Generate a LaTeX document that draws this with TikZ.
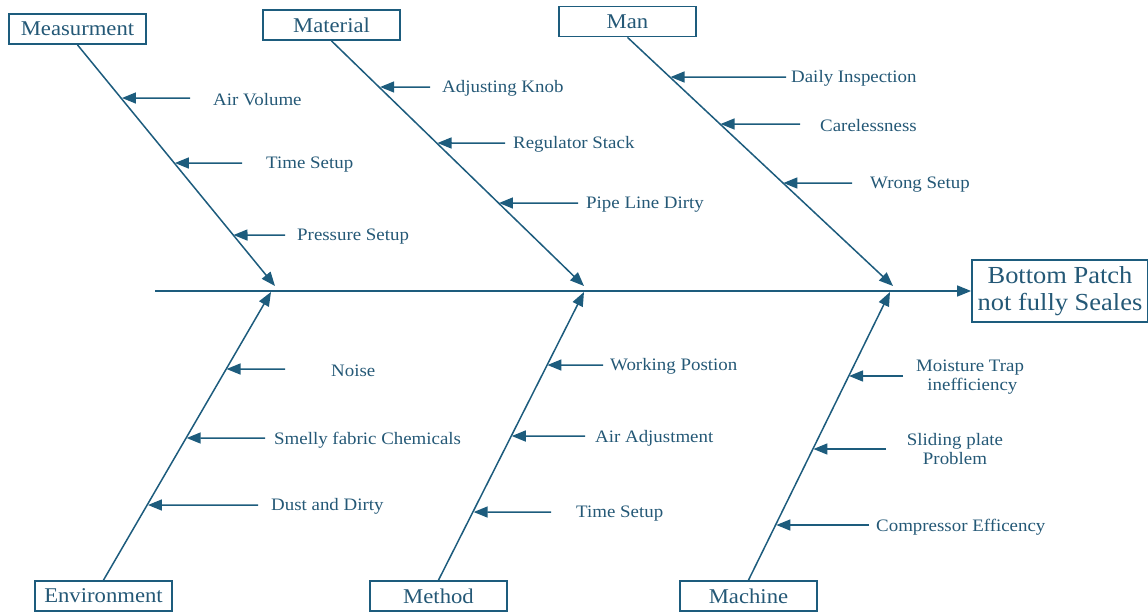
\documentclass[tikz,border=0pt]{standalone}
\usepackage{fontspec}
\setmainfont{Liberation Serif}[FakeStretch=1.08]
\usetikzlibrary{arrows.meta,calc}
\definecolor{bone}{RGB}{29,92,125}
\definecolor{ink}{RGB}{36,88,118}
\tikzset{
  catbox/.style={draw=bone,line width=1.8pt,minimum width=137pt,minimum height=30pt,inner sep=0pt,
    text=ink,font=\fontsize{21}{24}\selectfont},
  headbox/.style={draw=bone,line width=1.8pt,minimum width=176pt,minimum height=62pt,inner sep=0pt,
    align=center,text=ink,font=\fontsize{24.5}{26.5}\selectfont},
  boneline/.style={draw=bone,line width=1.5pt,-{Triangle[length=14pt,width=11pt]}},
  cause/.style={draw=bone,line width=1.5pt,-{Triangle[length=14pt,width=11pt]}},
  lbl/.style={text=ink,inner sep=0pt,yshift=-1.8pt,font=\fontsize{17.5}{19}\selectfont},
}
% one cause: #1 name, #2/#3 bone ends, #4 arrow tail, #5 label anchor point, #6 text
\newcommand\causeline[6]{%
  \coordinate (#1) at #4;
  \coordinate (#1h) at ($(#1)+(-60,0)$);
  \draw[cause] (#1) -- (intersection of #2--#3 and #1--#1h);
  \node[lbl,anchor=west] (#1t) at #5 {#6};
}
\begin{document}
\begin{tikzpicture}[x=1pt,y=-1pt]
\useasboundingbox (0,0) rectangle (1148,613);

% effect
\node[headbox] (head) at (1060,291) {\raisebox{-2pt}{Bottom Patch}\\\raisebox{-2pt}{not fully Seales}};
\coordinate (spineL) at (155,291);
\draw[boneline] (spineL) -- (head.west);

% categories
\node[catbox] (meas) at (77.5,29) {Measurment};
\node[catbox] (mat) at (331.5,25) {Material};
\node[catbox] (man) at (627.5,21.5) {Man};
\node[catbox] (env) at (103.5,596) {Environment};
\node[catbox] (meth) at (438.5,596) {Method};
\node[catbox] (mach) at (748.5,596) {Machine};

% bone end points
\coordinate (msA) at (78,44);   \coordinate (msB) at (275,286);
\coordinate (maA) at (332,40);  \coordinate (maB) at (584,286);
\coordinate (mnA) at (628,37);  \coordinate (mnB) at (893,286);
\coordinate (evA) at (104,581); \coordinate (evB) at (271,292);
\coordinate (mtA) at (439,581); \coordinate (mtB) at (584,292);
\coordinate (mcA) at (749,581); \coordinate (mcB) at (890,292);

\draw[boneline] (meas.south) -- (msB);
\draw[boneline] (mat.south) -- (maB);
\draw[boneline] (man.south) -- (mnB);
\draw[boneline] (env.north) -- (evB);
\draw[boneline] (meth.north) -- (mtB);
\draw[boneline] (mach.north) -- (mcB);

% Measurment
\causeline{c1}{msA}{msB}{(190,98)}{(213,98)}{Air Volume}
\causeline{c2}{msA}{msB}{(242,163)}{(266,163)}{Time Setup}
\causeline{c3}{msA}{msB}{(285,235)}{(297,235)}{Pressure Setup}
% Material
\causeline{c4}{maA}{maB}{(430,87)}{(442,87)}{Adjusting Knob}
\causeline{c5}{maA}{maB}{(505,143)}{(513,143)}{Regulator Stack}
\causeline{c6}{maA}{maB}{(578,203)}{(586,203)}{Pipe Line Dirty}
% Man
\causeline{c7}{mnA}{mnB}{(786,77)}{(791,77)}{Daily Inspection}
\causeline{c8}{mnA}{mnB}{(800,124)}{(820,124)}{Carelessness}
\causeline{c9}{mnA}{mnB}{(852,183)}{(870,183)}{Wrong Setup}
% Environment
\causeline{c10}{evA}{evB}{(285,369)}{(331,369)}{Noise}
\causeline{c11}{evA}{evB}{(265,438)}{(274,438)}{Smelly fabric Chemicals}
\causeline{c12}{evA}{evB}{(258,505)}{(271,505)}{Dust and Dirty}
% Method
\causeline{c13}{mtA}{mtB}{(603,365)}{(610,365)}{Working Postion}
\causeline{c14}{mtA}{mtB}{(585,436)}{(595,436)}{Air Adjustment}
\causeline{c15}{mtA}{mtB}{(551,512)}{(576,512)}{Time Setup}
% Machine
\coordinate (c16) at (903,376);
\coordinate (c16h) at ($(c16)+(-60,0)$);
\draw[cause] (c16) -- (intersection of mcA--mcB and c16--c16h);
\node[lbl,align=center,yshift=1pt] (c16t) at (970,376) {Moisture Trap\\ \ inefficiency};
\coordinate (c17) at (886,449);
\coordinate (c17h) at ($(c17)+(-60,0)$);
\draw[cause] (c17) -- (intersection of mcA--mcB and c17--c17h);
\node[lbl,align=center,yshift=1pt] (c17t) at (955,448) {Sliding plate\\Problem};
\causeline{c18}{mcA}{mcB}{(869,525)}{(876,525)}{Compressor Efficency}
\end{tikzpicture}
\end{document}
